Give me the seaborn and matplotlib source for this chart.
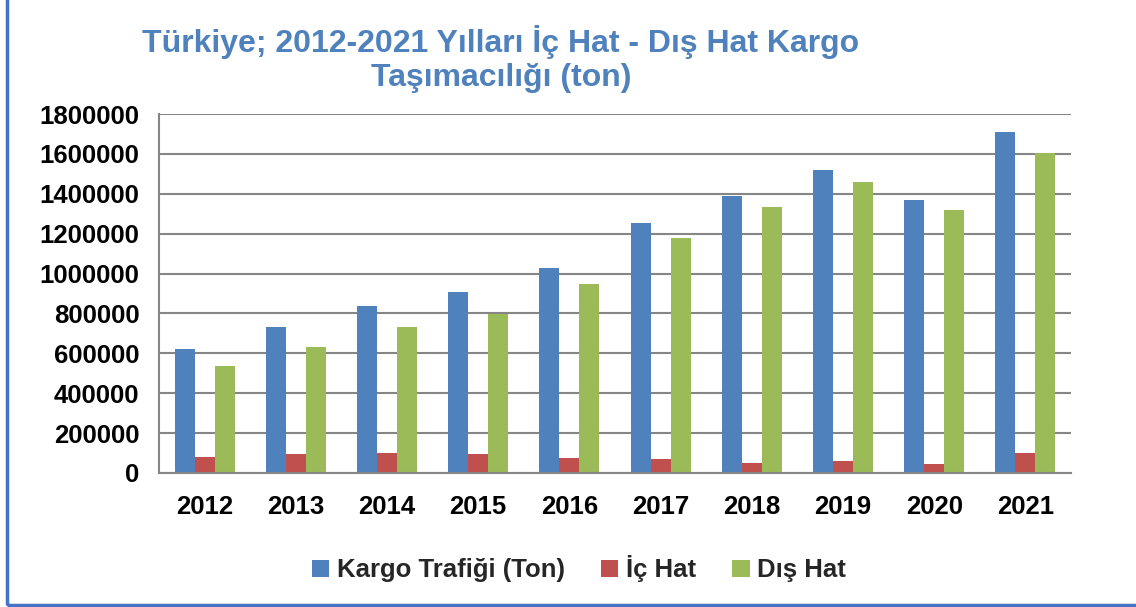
import matplotlib
matplotlib.use("Agg")
import matplotlib.pyplot as plt
from matplotlib.patches import Rectangle, Patch
import seaborn as sns
import pandas as pd

years = ["2012", "2013", "2014", "2015", "2016", "2017", "2018", "2019", "2020", "2021"]
kargo = [622000, 732000, 838000, 907000, 1030000, 1253000, 1389000, 1520000, 1369000, 1708000]
ic_hat = [80000, 94000, 100000, 97000, 77000, 70000, 49000, 62000, 47000, 100000]
dis_hat = [537000, 632000, 732000, 797000, 948000, 1178000, 1334000, 1459000, 1319000, 1604000]
series = ["Kargo Trafiği (Ton)", "İç Hat", "Dış Hat"]
colors = ["#4F81BD", "#C0504D", "#9BBB59"]
yticks = [0, 200000, 400000, 600000, 800000, 1000000, 1200000, 1400000, 1600000, 1800000]

df = pd.DataFrame({
    "Yıl": years * 3,
    "Seri": [series[0]] * 10 + [series[1]] * 10 + [series[2]] * 10,
    "Ton": kargo + ic_hat + dis_hat,
})

sns.set_theme(style="white")
plt.rcParams["font.family"] = ["Liberation Sans", "DejaVu Sans"]

fig = plt.figure(figsize=(11.36, 6.07), dpi=100)
ax = fig.add_axes([159 / 1136, 1 - 473 / 607, (1071 - 159) / 1136, (473 - 114) / 607])

sns.barplot(data=df, x="Yıl", y="Ton", hue="Seri", hue_order=series, order=years,
            palette=colors, width=0.66, saturation=1, ax=ax, legend=False,
            linewidth=0)

grid_c = "#868686"
tick_fs = 18.5
ax.set_ylim(0, 1800000)
ax.set_xlim(-0.5, len(years) - 0.5)
ax.set_yticks(yticks)
ax.set_yticklabels([str(v) for v in yticks], fontsize=tick_fs, fontweight="bold", color="black")
ax.set_xticks(range(len(years)))
ax.set_xticklabels(years, fontsize=tick_fs, fontweight="bold", color="black")
ax.set_xticks([i - 0.5 for i in range(len(years) + 1)], minor=True)
ax.tick_params(axis="x", which="major", length=0, pad=16)
ax.tick_params(axis="x", which="minor", length=7, width=1.5, color=grid_c)
ax.tick_params(axis="y", which="major", length=7, width=1.5, color=grid_c, pad=7)
ax.yaxis.grid(True, color=grid_c, linewidth=1.5)
ax.set_axisbelow(True)
for s in ["top", "right"]:
    ax.spines[s].set_visible(False)
for s in ["left", "bottom"]:
    ax.spines[s].set_color(grid_c)
    ax.spines[s].set_linewidth(1.5)
ax.set_xlabel("")
ax.set_ylabel("")

fig.text(501 / 1136, 1 - 59 / 607, "Türkiye; 2012-2021 Yılları İç Hat - Dış Hat Kargo\nTaşımacılığı (ton)",
         ha="center", va="center", fontsize=23, fontweight="bold", color="#4F81BD",
         linespacing=1.15)

handles = [Patch(facecolor=c, edgecolor="none") for c in colors]
fig.legend(handles, series, loc="center", bbox_to_anchor=(579 / 1136, 1 - 569 / 607), ncol=3,
           frameon=False, prop={"size": tick_fs, "weight": "bold"}, handlelength=0.68,
           handleheight=0.68, handletextpad=0.3, columnspacing=1.4)

fig.patches.append(Rectangle((7 / 1136, 2 / 607), 1.2, 1.2, transform=fig.transFigure,
                             fill=False, edgecolor="#4472C4", linewidth=2.5))

fig.savefig("out.png", dpi=100, facecolor="white")
